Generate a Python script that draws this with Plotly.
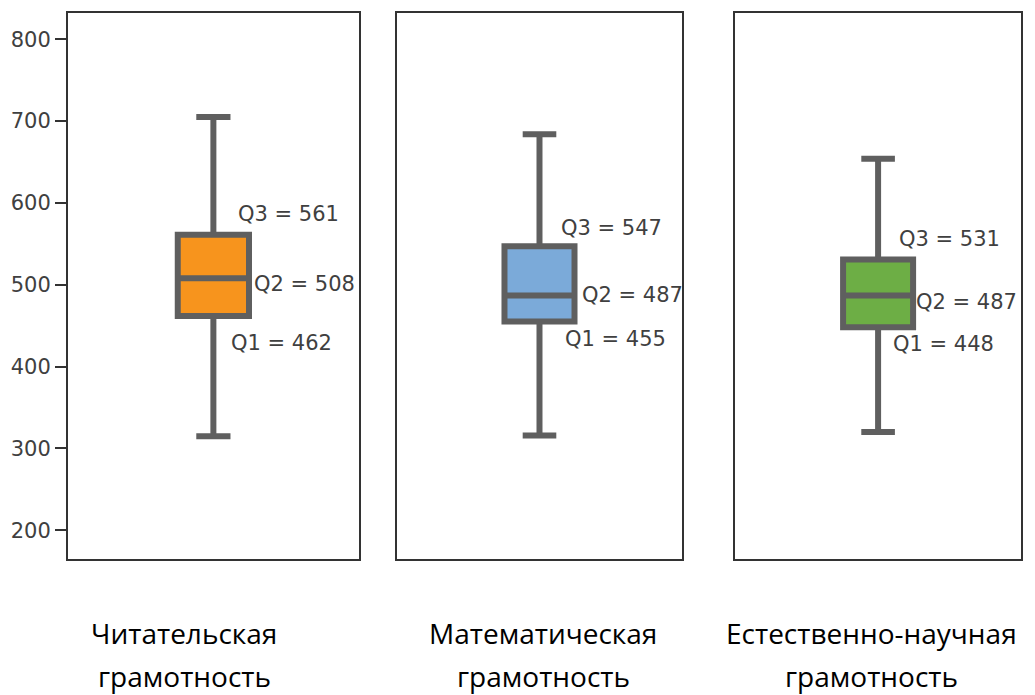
import plotly.graph_objects as go

# ---- data ----
categories_line1 = ["Читательская", "Математическая", "Естественно-научная"]
categories_line2 = ["грамотность", "грамотность", "грамотность"]
q1_vals = [462, 455, 448]
median_vals = [508, 487, 487]
q3_vals = [561, 547, 531]
lower_whisker = [315, 316, 320]
upper_whisker = [705, 684, 654]
y_ticks = [200, 300, 400, 500, 600, 700, 800]

# ---- style ----
fill_colors = ["#F7941D", "#7BAAD9", "#6DAE45"]
outline = "#5F5F5F"
frame = "#333333"
text_gray = "#404040"
domains = [[0.0, 0.3051], [0.3448, 0.6447], [0.7001, 1.0]]
y_range = [165, 832]

# label offsets (pixels) per panel: (xshift, yshift) for Q3, Q2, Q1
q3_off = [(23, 21), (20, 18), (19, 20)]
q2_off = [(39, -6), (41, 0), (36, -7)]
q1_off = [(16, -27), (24, -17), (13, -17)]
cat_xshift = [-29, 4, -7]

fig = go.Figure()
annotations = []
for i in range(3):
    sfx = "" if i == 0 else str(i + 1)
    fig.add_trace(go.Box(
        x=[0], q1=[q1_vals[i]], median=[median_vals[i]], q3=[q3_vals[i]],
        lowerfence=[lower_whisker[i]], upperfence=[upper_whisker[i]],
        xaxis="x" + sfx, yaxis="y" + sfx,
        fillcolor=fill_colors[i], line=dict(color=outline, width=6),
        width=0.245, whiskerwidth=0.48, boxpoints=False, showlegend=False,
    ))
    xa = dict(domain=domains[i], range=[-0.5, 0.5], showticklabels=False,
              showgrid=False, zeroline=False, showline=True, mirror=True,
              linecolor=frame, linewidth=2, ticks="", anchor="y" + sfx)
    ya = dict(range=y_range, showgrid=False, zeroline=False, showline=True,
              mirror=True, linecolor=frame, linewidth=2, anchor="x" + sfx,
              domain=[0, 1])
    if i == 0:
        ya.update(tickvals=y_ticks, ticks="outside", ticklen=11, tickwidth=2,
                  tickcolor=frame,
                  tickfont=dict(family="DejaVu Sans", size=21, color=text_gray))
    else:
        ya.update(showticklabels=False, ticks="")
    fig.layout["xaxis" + sfx] = xa
    fig.layout["yaxis" + sfx] = ya

    for name, val, off in (("Q3", q3_vals[i], q3_off[i]),
                           ("Q2", median_vals[i], q2_off[i]),
                           ("Q1", q1_vals[i], q1_off[i])):
        annotations.append(dict(
            x=0, y=val, xref="x" + sfx, yref="y" + sfx,
            text=f"{name} = {val}", showarrow=False,
            xanchor="left", yanchor="middle", xshift=off[0], yshift=off[1],
            font=dict(family="DejaVu Sans", size=21, color=text_gray)))
    for line_text, ysh in ((categories_line1[i], -74), (categories_line2[i], -117)):
        annotations.append(dict(
            x=0, y=0, xref="x" + sfx, yref="paper", text=line_text,
            showarrow=False, xanchor="center", yanchor="middle",
            xshift=cat_xshift[i], yshift=ysh, borderpad=0,
            font=dict(family="Open Sans", size=28, color="#000000")))

fig.update_layout(
    width=1035, height=695,
    margin=dict(l=64, r=14, t=11, b=136),
    paper_bgcolor="white", plot_bgcolor="white",
    annotations=annotations,
)

fig.write_html("out.html", config={"displayModeBar": False},
               post_script="document.body.style.margin='0';document.body.style.overflow='hidden';")
